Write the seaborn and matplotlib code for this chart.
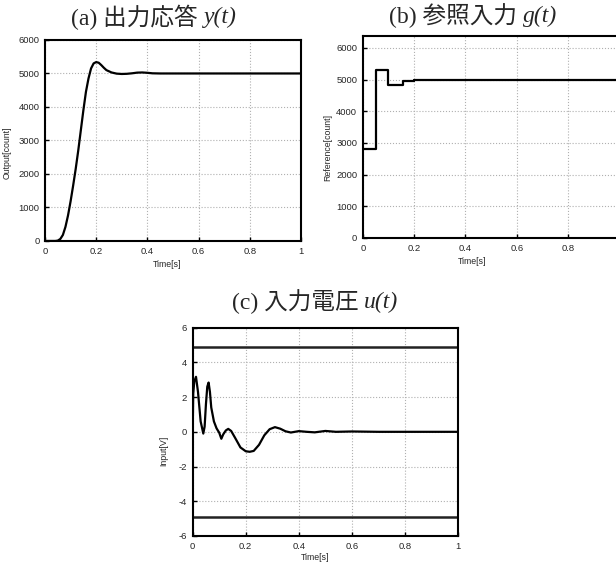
import numpy as np
import pandas as pd
import matplotlib
matplotlib.use('Agg')
import matplotlib.pyplot as plt
import seaborn as sns

# (a) output y(t)
y_t = [0, 0.04, 0.05, 0.06, 0.07, 0.08, 0.09, 0.10, 0.11, 0.12, 0.13, 0.14, 0.15, 0.16,
       0.17, 0.18, 0.19, 0.20, 0.21, 0.22, 0.23, 0.24, 0.26, 0.28, 0.30, 0.32, 0.34, 0.36,
       0.38, 0.40, 0.42, 0.45, 0.5, 1.0]
y_v = [0, 0, 10, 60, 180, 420, 760, 1180, 1650, 2150, 2700, 3300, 3900, 4450,
       4850, 5150, 5300, 5340, 5320, 5250, 5170, 5100, 5030, 4995, 4985, 4990, 5005, 5025,
       5030, 5020, 5005, 5000, 5000, 5000]

# (b) reference g(t), held per sample
g_t = [0, 0.05, 0.10, 0.15, 0.155, 0.20, 0.30, 1.0]
g_v = [2800, 5300, 4820, 4820, 4950, 4990, 5000, 5000]

# (c) input voltage u(t)
u_t = [0, 0.002, 0.006, 0.0125, 0.02, 0.03, 0.04, 0.045, 0.05, 0.055, 0.06, 0.065, 0.07,
       0.08, 0.09, 0.1, 0.108, 0.115, 0.125, 0.134, 0.145, 0.16, 0.18, 0.2, 0.215, 0.23,
       0.25, 0.27, 0.29, 0.31, 0.33, 0.35, 0.37, 0.4, 0.43, 0.46, 0.5, 0.54, 0.6, 0.7, 1.0]
u_v = [0, 2.2, 2.9, 3.17, 2.3, 0.6, -0.1, 0.3, 1.6, 2.6, 2.84, 2.3, 1.4,
       0.6, 0.2, -0.05, -0.4, -0.15, 0.08, 0.17, 0.05, -0.35, -0.9, -1.12, -1.15, -1.1,
       -0.75, -0.2, 0.15, 0.27, 0.18, 0.03, -0.04, 0.04, 0.0, -0.03, 0.05, 0.0, 0.02, 0.0, 0.0]
u_limit = 4.9

x_ticks = [0, 0.2, 0.4, 0.6, 0.8, 1.0]
x_labels = ['0', '0.2', '0.4', '0.6', '0.8', '1']

titles = [('(a) 出力応答 ', 'y(t)'), ('(b) 参照入力 ', 'g(t)'), ('(c) 入力電圧 ', 'u(t)')]
title_centers = [(154, 17), (473, 16), (315, 302)]

sns.set_style('ticks')
plt.rcParams['font.family'] = ['Liberation Sans', 'DejaVu Sans']
plt.rcParams['axes.unicode_minus'] = False

fig = plt.figure(figsize=(6.16, 5.63), dpi=100)
ax_a = fig.add_axes([0.073, 0.572, 0.4156, 0.357])
ax_b = fig.add_axes([0.589, 0.5773, 0.4164, 0.358])
ax_c = fig.add_axes([0.3128, 0.048, 0.4307, 0.370])


def style_axes(ax, ylabel, xlab_pos, ylab_pos):
    ax.set_xlim(0, 1)
    ax.set_xticks(x_ticks)
    ax.set_xticklabels(x_labels)
    ax.grid(True, ls=':', color='#b0b0b0', lw=0.8)
    ax.tick_params(direction='in', length=3, width=1, labelsize=6.8, pad=4, color='black')
    for s in ax.spines.values():
        s.set_linewidth(1.5)
        s.set_color('black')
    ax.set_xlabel('Time[s]', fontsize=6.3)
    ax.set_ylabel(ylabel, fontsize=6.3)
    ax.xaxis.set_label_coords(*xlab_pos)
    ax.yaxis.set_label_coords(*ylab_pos)


df_a = pd.DataFrame({'t': y_t, 'y': y_v})
sns.lineplot(data=df_a, x='t', y='y', ax=ax_a, color='black', lw=1.6)
ax_a.set_ylim(0, 6000)
ax_a.set_yticks(range(0, 6001, 1000))
style_axes(ax_a, 'Output[count]', (0.476, -0.095), (-0.13, 0.44))

df_b = pd.DataFrame({'t': g_t, 'g': g_v})
sns.lineplot(data=df_b, x='t', y='g', ax=ax_b, color='black', lw=1.6, drawstyle='steps-post')
ax_b.set_ylim(0, 6360)
ax_b.set_yticks(range(0, 6001, 1000))
style_axes(ax_b, 'Reference[count]', (0.425, -0.094), (-0.12, 0.45))

df_c = pd.DataFrame({'t': u_t, 'u': u_v})
sns.lineplot(data=df_c, x='t', y='u', ax=ax_c, color='black', lw=1.6)
ax_c.axhline(u_limit, color='#222222', lw=1.8)
ax_c.axhline(-u_limit, color='#222222', lw=1.8)
ax_c.set_ylim(-6, 6)
ax_c.set_yticks(range(-6, 7, 2))
style_axes(ax_c, 'Input[V]', (0.46, -0.082), (-0.093, 0.41))

# titles: upright part with CJK fallback, italic serif function name after it
fig.canvas.draw()
renderer = fig.canvas.get_renderer()
for (head, func), (cx, cy) in zip(titles, title_centers):
    t1 = fig.text(0, 1 - cy / 563, head, ha='left', va='center', fontsize=17,
                  family=['Liberation Serif', 'Noto Sans CJK JP'])
    t2 = fig.text(0, 1 - cy / 563, func, ha='left', va='center', fontsize=17,
                  family='Liberation Serif', style='italic')
    w1 = t1.get_window_extent(renderer).width
    w2 = t2.get_window_extent(renderer).width
    left = cx - (w1 + w2) / 2
    t1.set_x(left / 616)
    t2.set_x((left + w1) / 616)

fig.savefig('out.png', dpi=100)
